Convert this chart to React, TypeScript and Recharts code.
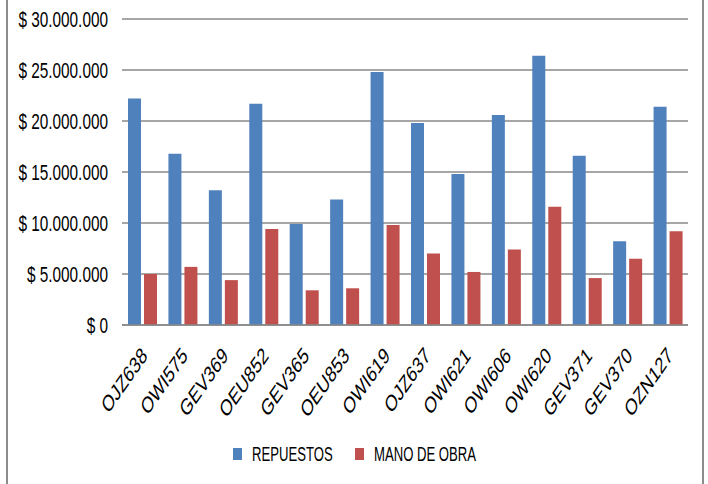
import { BarChart, Bar, XAxis, YAxis, CartesianGrid, Legend } from 'recharts';

const plates = ['OJZ638', 'OWI575', 'GEV369', 'OEU852', 'GEV365', 'OEU853', 'OWI619', 'OJZ637', 'OWI621', 'OWI606', 'OWI620', 'GEV371', 'GEV370', 'OZN127'];
const repuestos = [22200000, 16800000, 13200000, 21700000, 9900000, 12300000, 24800000, 19800000, 14800000, 20600000, 26400000, 16600000, 8200000, 21400000];
const manoDeObra = [5000000, 5700000, 4400000, 9400000, 3400000, 3600000, 9800000, 7000000, 5200000, 7400000, 11600000, 4600000, 6500000, 9200000];
const yTicks = [0, 5000000, 10000000, 15000000, 20000000, 25000000, 30000000];
const seriesNames = ['REPUESTOS', 'MANO DE OBRA'];

const data = plates.map((p, i) => ({ plate: p, repuestos: repuestos[i], mano: manoDeObra[i] }));

const font = '"Liberation Sans", Arial, sans-serif';
const BLUE = '#4F81BD';
const RED = '#C0504D';

const fmt = (v: number) => (v === 0 ? '$ 0' : '$ ' + v.toLocaleString('de-DE'));

// the reference is stretched vertically, so text is drawn with a vertical scale
function MoneyTick(props: any) {
  const { x, y, payload } = props;
  return (
    <g transform={`translate(${x}, ${y}) scale(0.96, 1.4)`}>
      <text x={0} y={0} dy="0.355em" textAnchor="end" fontSize={16} fontFamily={font} fill="#000">
        {fmt(payload.value)}
      </text>
    </g>
  );
}

function PlateTick(props: any) {
  const { x, y, payload } = props;
  return (
    <g transform={`translate(${x + 6}, ${y + 24}) scale(1, 1.43) rotate(-45)`}>
      <text x={0} y={0} textAnchor="end" fontSize={16} fontFamily={font} fill="#000">
        {payload.value}
      </text>
    </g>
  );
}

function LegendBox() {
  const items = [
    { color: BLUE, label: seriesNames[0], x: 233 },
    { color: RED, label: seriesNames[1], x: 355 },
  ];
  return (
    <svg width={708} height={30} style={{ display: 'block', overflow: 'visible' }}>
      {items.map((it) => (
        <g key={it.label}>
          <rect x={it.x} y={9} width={9} height={12} fill={it.color} />
          <g transform={`translate(${it.x + 19}, 15) scale(0.82, 1.3)`}>
            <text x={0} y={0} dy="0.355em" fontSize={16} fontFamily={font} fill="#000">
              {it.label}
            </text>
          </g>
        </g>
      ))}
    </svg>
  );
}

export default function App() {
  return (
    <div style={{ position: 'absolute', left: 0, top: 0, width: 708, height: 484, background: '#fff' }}>
      <div style={{ position: 'absolute', left: 6, top: 0, width: 694, height: 484, borderLeft: '2px solid #8c8c8c', borderRight: '2px solid #8c8c8c' }} />
      <BarChart
        width={708}
        height={484}
        data={data}
        margin={{ top: 19, right: 20, left: 0, bottom: 15 }}
        barGap={3}
        barSize={13}
      >
        <CartesianGrid vertical={false} stroke="#888888" strokeWidth={1.4} />
        <XAxis
          dataKey="plate"
          interval={0}
          tickLine={false}
          axisLine={{ stroke: '#888888', strokeWidth: 1.4 }}
          tick={<PlateTick />}
          height={114}
        />
        <YAxis
          width={122}
          domain={[0, 30000000]}
          ticks={yTicks}
          axisLine={false}
          tickLine={false}
          tickMargin={8}
          tick={<MoneyTick />}
        />
        <Legend
          verticalAlign="bottom"
          height={30}
          content={<LegendBox />}
          wrapperStyle={{ left: 0, width: 708, bottom: 15 }}
        />
        <Bar dataKey="repuestos" name={seriesNames[0]} fill={BLUE} isAnimationActive={false} />
        <Bar dataKey="mano" name={seriesNames[1]} fill={RED} isAnimationActive={false} />
      </BarChart>
    </div>
  );
}
